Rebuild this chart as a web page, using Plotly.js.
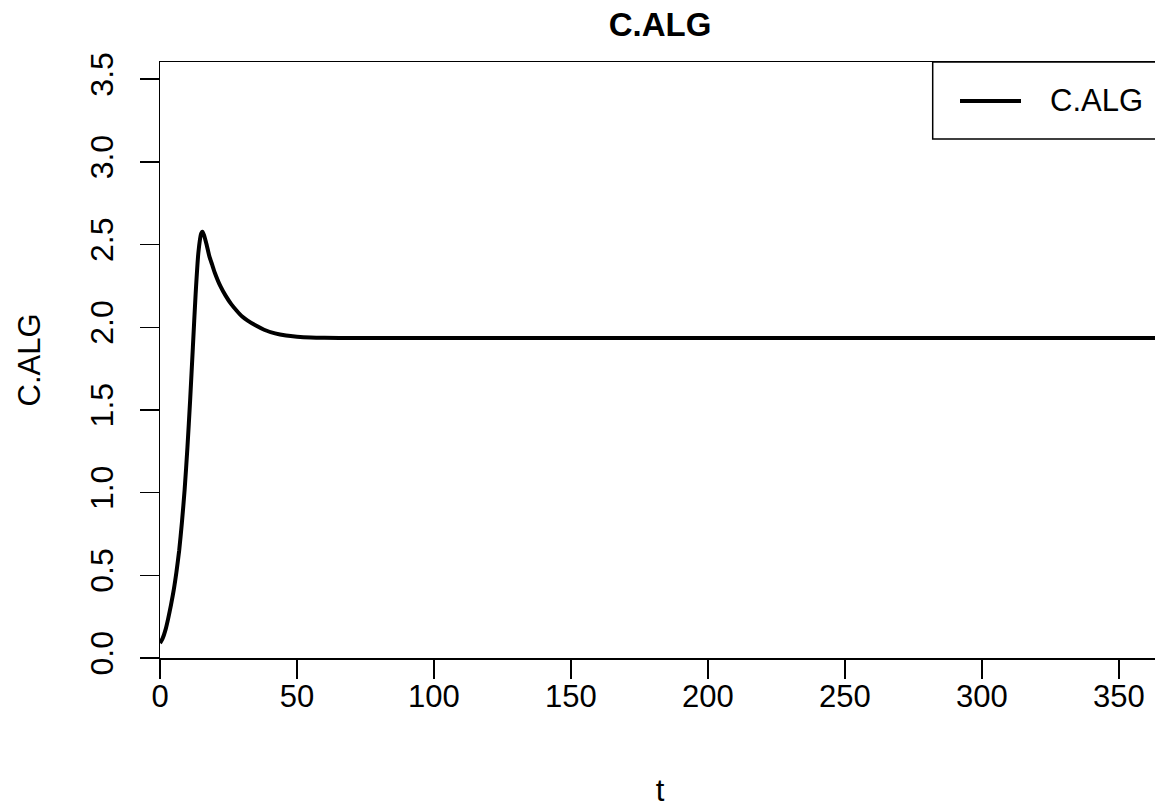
<!DOCTYPE html>
<html>
<head>
<meta charset="utf-8">
<script src="https://cdn.plot.ly/plotly-3.0.1.min.js"></script>
<style>
html, body { margin: 0; padding: 0; overflow: hidden; background: #fff; }
#chart { width: 1160px; height: 812px; }
</style>
</head>
<body>
<div id="chart"></div>
<script>
// Time points (t) and C.ALG values
const tValues = [0, 1, 2, 3, 4, 5, 6, 7, 8, 9, 10, 11, 12, 13, 14, 15, 15.5, 16, 17, 18, 19, 20, 22, 24, 26, 28, 30, 32, 35, 38, 42, 46, 50, 55, 60, 70, 100, 150, 200, 250, 300, 365];
const calgValues = [0.09, 0.12, 0.17, 0.24, 0.32, 0.41, 0.52, 0.65, 0.82, 1.02, 1.27, 1.56, 1.88, 2.20, 2.45, 2.565, 2.578, 2.56, 2.50, 2.43, 2.38, 2.33, 2.25, 2.19, 2.14, 2.10, 2.065, 2.04, 2.01, 1.985, 1.963, 1.95, 1.943, 1.938, 1.936, 1.935, 1.935, 1.935, 1.935, 1.935, 1.935, 1.935];
const xTicks = [0, 50, 100, 150, 200, 250, 300, 350];
const yTicks = [0.0, 0.5, 1.0, 1.5, 2.0, 2.5, 3.0, 3.5];
const seriesName = "C.ALG";

const FONT = "Liberation Sans, Arial, Helvetica, sans-serif";

const trace = {
  x: tValues,
  y: calgValues,
  type: "scatter",
  mode: "lines",
  name: seriesName,
  line: { color: "#000000", width: 4, shape: "spline", smoothing: 0.6 },
  showlegend: false,
  hoverinfo: "x+y"
};

const layout = {
  width: 1160,
  height: 812,
  margin: { l: 160, r: 0, t: 62, b: 154 },
  paper_bgcolor: "#ffffff",
  plot_bgcolor: "#ffffff",
  font: { family: FONT, size: 31, color: "#000000" },
  title: {
    text: "<b>C.ALG</b>",
    font: { family: FONT, size: 33, color: "#000000" },
    xref: "paper", x: 0.5, xanchor: "center",
    yref: "container", y: 0.9704, yanchor: "middle"
  },
  xaxis: {
    range: [0, 365],
    tickmode: "array",
    tickvals: xTicks,
    ticktext: xTicks.map(String),
    ticks: "outside",
    ticklen: 19,
    tickwidth: 1.5,
    tickcolor: "#000000",
    showline: true,
    linecolor: "#000000",
    linewidth: 1.5,
    mirror: true,
    showgrid: false,
    zeroline: false,
    ticklabelstandoff: -9,
    tickfont: { family: FONT, size: 31, color: "#000000" },
    title: { text: "t", font: { family: FONT, size: 31, color: "#000000" }, standoff: 66 }
  },
  yaxis: {
    range: [0, 3.604],
    tickmode: "array",
    tickvals: yTicks,
    ticktext: yTicks.map(v => v.toFixed(1)),
    tickangle: -90,
    ticks: "outside",
    ticklen: 19,
    tickwidth: 1.5,
    tickcolor: "#000000",
    showline: true,
    linecolor: "#000000",
    linewidth: 1.5,
    mirror: true,
    showgrid: false,
    zeroline: false,
    ticklabelstandoff: 14,
    tickfont: { family: FONT, size: 32, color: "#000000" },
    title: { text: "C.ALG", font: { family: FONT, size: 31, color: "#000000" }, standoff: 34 }
  },
  shapes: [
    { type: "rect", xref: "paper", yref: "paper", x0: 0.7727, x1: 1.0, y0: 0.8708, y1: 1.0,
      line: { color: "#000000", width: 1.5 }, fillcolor: "rgba(0,0,0,0)" },
    { type: "line", xref: "paper", yref: "paper", x0: 0.800, x1: 0.861, y0: 0.9346, y1: 0.9346,
      line: { color: "#000000", width: 4 } }
  ],
  annotations: [
    { xref: "paper", yref: "paper", x: 0.888, y: 0.9346, xanchor: "left", yanchor: "middle",
      text: seriesName, showarrow: false, font: { family: FONT, size: 31, color: "#000000" } }
  ]
};

Plotly.newPlot("chart", [trace], layout, { displayModeBar: false, staticPlot: true });
</script>
</body>
</html>
